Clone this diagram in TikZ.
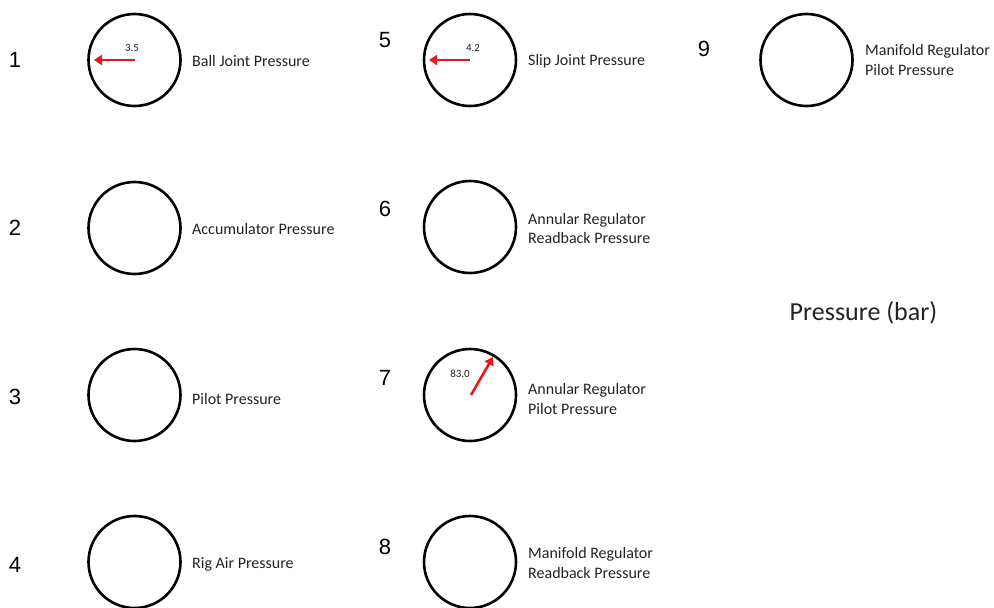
\documentclass[tikz,border=0pt]{standalone}
\usepackage{fontspec}
\setmainfont{Carlito}
\newfontfamily\numfont{Liberation Sans}
\usetikzlibrary{arrows.meta}
\definecolor{needle}{RGB}{226,28,28}
\definecolor{txt}{RGB}{35,35,35}
\tikzset{
  gauge/.style={circle,draw=black,line width=2.6pt,minimum size=92pt,inner sep=0pt},
  idx/.style={font=\numfont\fontsize{22}{22}\selectfont,text=black,inner sep=0pt},
  lbl/.style={font=\fontsize{16}{20}\selectfont,text=txt,anchor=west,align=left,inner sep=0pt},
  val/.style={font=\fontsize{11}{11}\selectfont,text=txt,inner sep=0pt},
  ptr/.style={draw=needle,line width=2.6pt,-{Triangle[length=8pt,width=10pt]}}
}
\begin{document}
\begin{tikzpicture}[x=1pt,y=-1pt]
\useasboundingbox (0,0) rectangle (994,608);
% column 1
\node[gauge] (g1) at (134.5,60) {};
\node[gauge] (g2) at (134.5,228) {};
\node[gauge] (g3) at (134.5,395) {};
\node[gauge] (g4) at (134.5,562) {};
\node[idx] (n1) at (15,60) {1};
\node[idx] (n2) at (15,228) {2};
\node[idx] (n3) at (15,397) {3};
\node[idx] (n4) at (15,565) {4};
\node[lbl] (l1) at (192,61) {Ball Joint Pressure};
\node[lbl] (l2) at (192,229) {Accumulator Pressure};
\node[lbl] (l3) at (192,399) {Pilot Pressure};
\node[lbl] (l4) at (192,564) {Rig Air Pressure};
% column 2
\node[gauge] (g5) at (470,60) {};
\node[gauge] (g6) at (470,227) {};
\node[gauge] (g7) at (470,395) {};
\node[gauge] (g8) at (470,562) {};
\node[idx] (n5) at (385,40) {5};
\node[idx] (n6) at (385,209) {6};
\node[idx] (n7) at (385,378) {7};
\node[idx] (n8) at (385,547) {8};
\node[lbl] (l5) at (528,61) {Slip Joint Pressure};
\node[lbl] (l6) at (528,228.5) {Annular Regulator\\Readback Pressure};
\node[lbl] (l7) at (528,399) {Annular Regulator\\Pilot Pressure};
\node[lbl] (l8) at (528,563) {Manifold Regulator\\Readback Pressure};
% column 3
\node[gauge] (g9) at (806.5,60) {};
\node[idx] (n9) at (704,49) {9};
\node[lbl] (l9) at (865,60.5) {Manifold Regulator\\Pilot Pressure};
\node[font=\fontsize{26}{26}\selectfont,text=txt,inner sep=0pt] (title) at (863.5,313) {Pressure (bar)};
% needles
\coordinate (t1) at (94,60);
\coordinate (t5) at (429,60);
\coordinate (t7) at (493,357);
\coordinate (c7) at (471,395);
\draw[ptr] (g1.center) -- (t1);
\draw[ptr] (g5.center) -- (t5);
\draw[ptr] (c7) -- (t7);
\node[val] (v1) at (132,48) {3.5};
\node[val] (v5) at (473,48) {4.2};
\node[val] (v7) at (460,374) {83.0};
\end{tikzpicture}
\end{document}
